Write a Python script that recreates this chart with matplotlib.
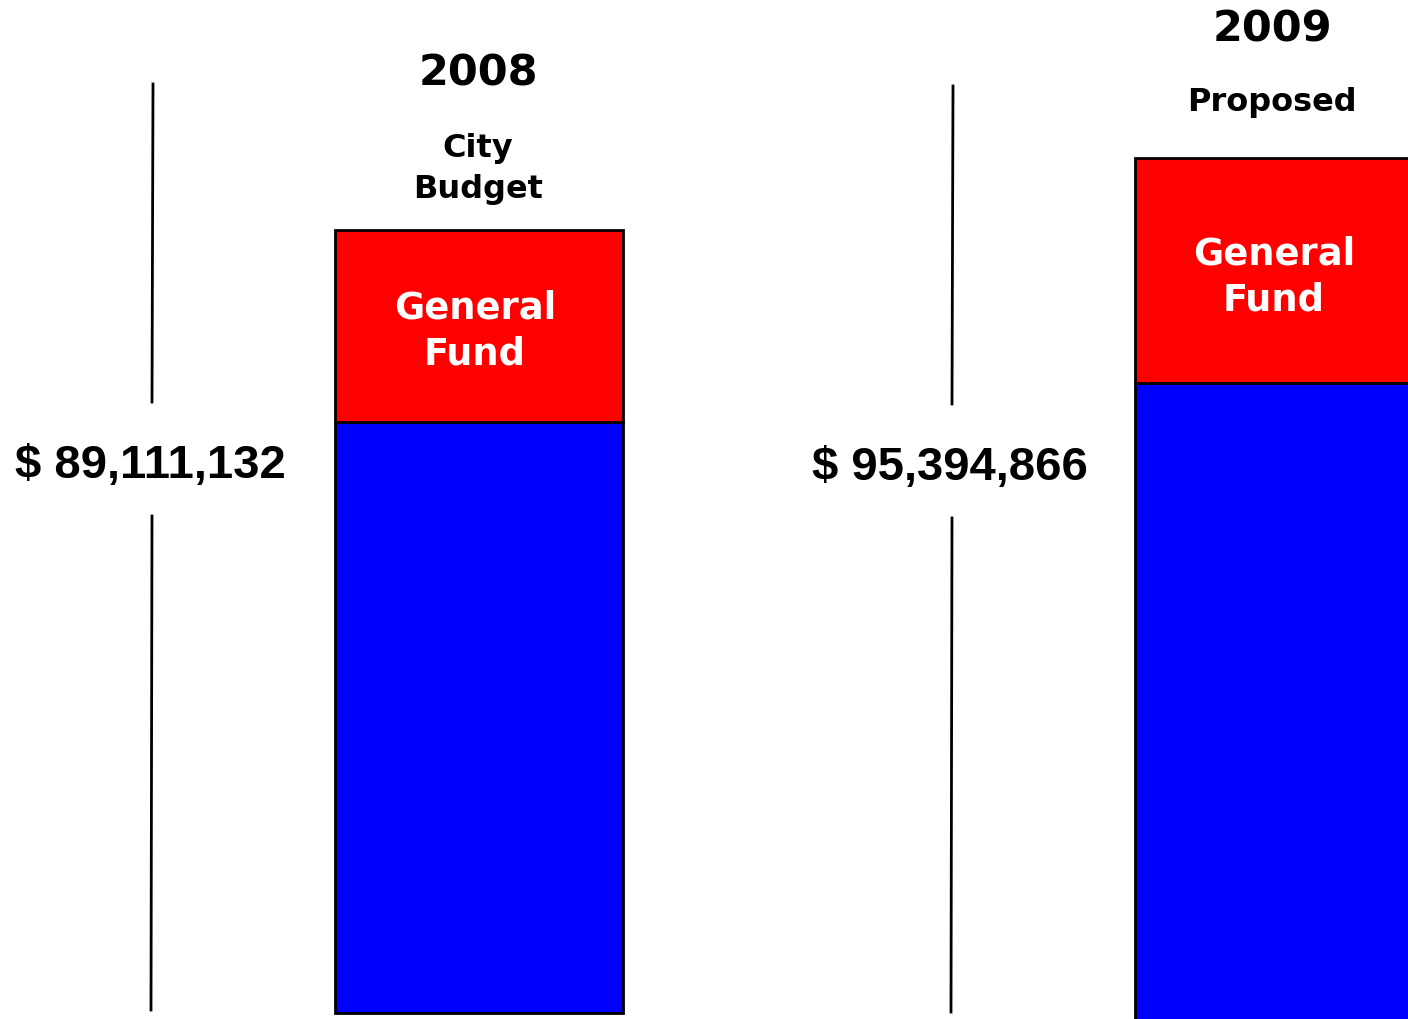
import matplotlib
matplotlib.use("Agg")
import matplotlib.pyplot as plt

# ---- data ----
years = ["2008", "2009"]
subtitles = ["City\nBudget", "Proposed"]
totals = ["$ 89,111,132", "$ 95,394,866"]
other_funds = [591, 666]       # blue segment (estimated, px-scale units)
general_fund = [192, 225]      # red segment (estimated, px-scale units)
segment_label = "General\nFund"

# ---- layout ----
W, H = 1408, 1020
bar_x = [479, 1279]
title_x = [478, 1272]
bar_w = 288
baselines = [6, -30]
line_x = [152, 952]

fig = plt.figure(figsize=(W / 100, H / 100), dpi=100)
ax = fig.add_axes([0, 0, 1, 1])
ax.set_xlim(0, W)
ax.set_ylim(0, H)
ax.axis("off")

bold_sans = ["DejaVu Sans"]
arial = ["Liberation Sans", "DejaVu Sans"]

ax.bar(bar_x, other_funds, width=bar_w, bottom=baselines, color="#0000ff",
       edgecolor="black", linewidth=2)
tops = [b + o for b, o in zip(baselines, other_funds)]
ax.bar(bar_x, general_fund, width=bar_w, bottom=tops, color="#ff0000",
       edgecolor="black", linewidth=2)

title_y = [H - 73, H - 29]
sub_y = [H - 169, H - 103]
gf_y = [H - 331, H - 277]
gf_x = [475, 1274]
for i in range(2):
    ax.text(title_x[i], title_y[i], years[i], ha="center", va="center",
            fontsize=31, fontweight="bold", family=bold_sans)
    ax.text(title_x[i], sub_y[i], subtitles[i], ha="center", va="center",
            fontsize=23, fontweight="bold", family=bold_sans, linespacing=1.45)
    ax.text(gf_x[i], gf_y[i], segment_label, ha="center", va="center",
            fontsize=26.5, fontweight="bold", family=bold_sans, color="white",
            linespacing=1.3)
    # vertical separator line, broken around the total label
    x = line_x[i]
    ax.plot([x + 1, x], [H - 85 - 2 * i, H - 403 - 2 * i], color="black", lw=2)
    ax.plot([x, x - 1], [H - 517 - 2 * i, H - 1011 - 2 * i], color="black", lw=2)
    ax.text(x - 2, H - 466 - 2 * i, totals[i], ha="center", va="center",
            fontsize=34, fontweight="bold", family=arial)

fig.savefig("out.png", dpi=100, facecolor="white")
